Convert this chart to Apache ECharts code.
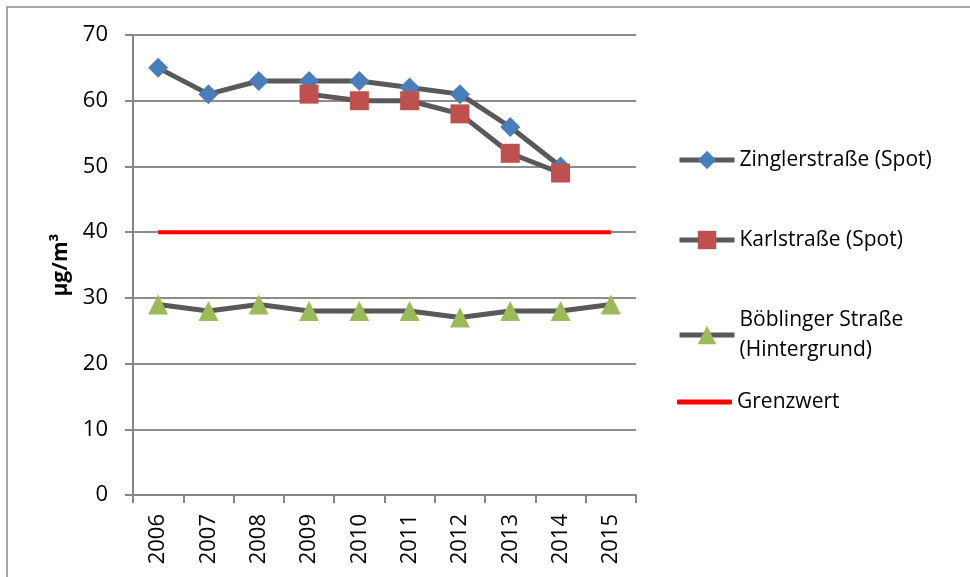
<!DOCTYPE html>
<html>
<head>
<meta charset="utf-8">
<script src="https://cdn.jsdelivr.net/npm/echarts@6/dist/echarts.min.js"></script>
<style>
    html, body { margin: 0; padding: 0; background: #fff; overflow: hidden; }
    .frame {
        position: absolute; left: 6px; top: 6px; width: 1000px; height: 600px;
        border: 2px solid #a6a6a6; box-sizing: border-box;
    }
    #main { position: absolute; left: 0; top: 0; width: 970px; height: 577px; }
</style>
</head>
<body>
<div class="frame"></div>
<div id="main"></div>
<script>
    // Jahre und Messwerte (NO2 Jahresmittel)
    var years = ['2006', '2007', '2008', '2009', '2010', '2011', '2012', '2013', '2014', '2015'];
    var zingler = [65, 61, 63, 63, 63, 62, 61, 56, 50, null];
    var karl = [null, null, null, 61, 60, 60, 58, 52, 49, null];
    var boeblinger = [29, 28, 29, 28, 28, 28, 27, 28, 28, 29];
    var grenzwert = [40, 40, 40, 40, 40, 40, 40, 40, 40, 40];
    var yTicks = [0, 10, 20, 30, 40, 50, 60, 70];

    var names = ['Zinglerstraße (Spot)', 'Karlstraße (Spot)', 'Böblinger Straße\n(Hintergrund)', 'Grenzwert'];
    var legendTops = [145, 225, 305, 387];

    var font = 'Open Sans';
    var grey = '#595959';
    var main1 = echarts.init(document.getElementById('main'));

    var legends = names.map(function (n, i) {
        var last = i === names.length - 1;
        return {
            data: [last ? { name: n, icon: 'roundRect', itemStyle: { color: '#ff0000' } } : n],
            left: 677,
            top: legendTops[i],
            padding: 0,
            itemWidth: 55,
            itemHeight: last ? 5 : 23,
            itemGap: 0,
            lineStyle: { width: 5, color: grey },
            textStyle: { fontFamily: font, fontSize: 21, color: '#000', lineHeight: 30 },
            selectedMode: false
        };
    });

    var option = {
        animation: false,
        legend: legends,
        grid: { left: 133, right: 334, top: 35, bottom: 82 },
        xAxis: {
            type: 'category',
            data: years,
            boundaryGap: true,
            axisLine: { lineStyle: { color: '#868686', width: 2 } },
            axisTick: { show: true, length: 8, lineStyle: { color: '#868686', width: 2 } },
            axisLabel: { rotate: 90, margin: 19, fontFamily: font, fontSize: 22, color: '#000' }
        },
        yAxis: {
            type: 'value',
            min: yTicks[0],
            max: yTicks[yTicks.length - 1],
            interval: 10,
            name: 'µg/m³',
            nameLocation: 'middle',
            nameGap: 58,
            nameTextStyle: { fontFamily: font, fontSize: 21, fontWeight: 'bold', color: '#000' },
            axisLine: { show: true, lineStyle: { color: '#868686', width: 2 } },
            axisTick: { show: true, length: 8, lineStyle: { color: '#868686', width: 2 } },
            axisLabel: { margin: 25, fontFamily: font, fontSize: 22, color: '#000' },
            splitLine: { lineStyle: { color: '#8c8c8c', width: 2 } }
        },
        series: [
            {
                name: names[0], type: 'line', data: zingler,
                symbol: 'diamond', symbolSize: 20,
                lineStyle: { color: grey, width: 5 },
                itemStyle: { color: '#4a7ebb' }
            },
            {
                name: names[1], type: 'line', data: karl,
                symbol: 'rect', symbolSize: 19,
                lineStyle: { color: grey, width: 5 },
                itemStyle: { color: '#c0504d' }
            },
            {
                name: names[2], type: 'line', data: boeblinger,
                symbol: 'triangle', symbolSize: 20,
                lineStyle: { color: grey, width: 5 },
                itemStyle: { color: '#9bbb59' }
            },
            {
                name: names[3], type: 'line', data: grenzwert,
                symbol: 'none',
                lineStyle: { color: '#ff0000', width: 4 },
                itemStyle: { color: '#ff0000' }
            }
        ]
    };

    main1.setOption(option);
</script>
</body>
</html>
